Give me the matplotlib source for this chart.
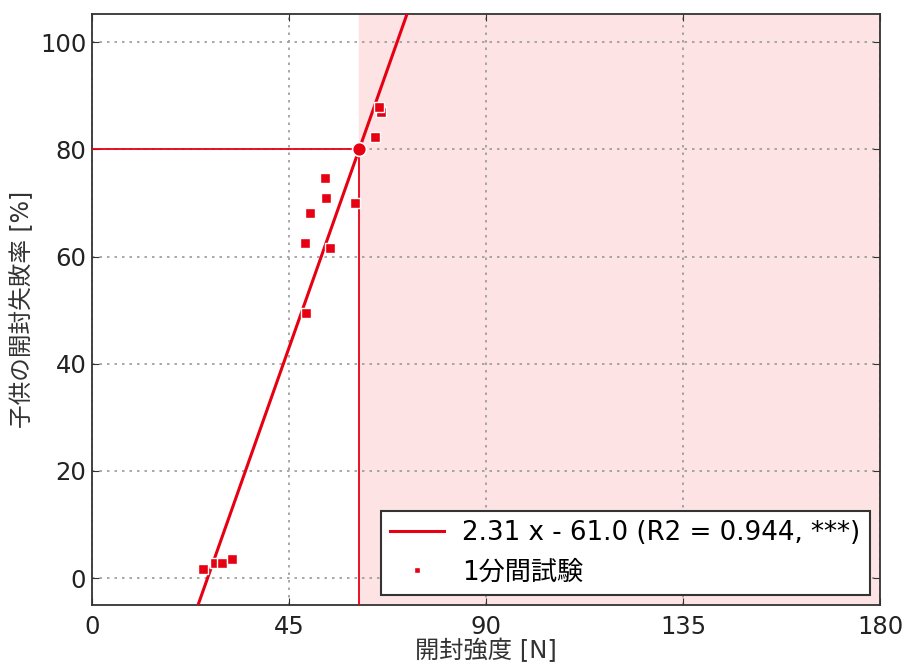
import numpy as np
import matplotlib
matplotlib.use("Agg")
import matplotlib.pyplot as plt

plt.rcParams['font.family'] = ['DejaVu Sans', 'Noto Sans CJK JP']

# Opening force [N] and children's failure rate [%] for the 1-minute test
force = [25.4, 28.2, 29.6, 31.9, 48.9, 48.7, 49.7, 53.3, 53.4, 54.4, 60.2, 64.6, 66.0, 65.5]
failure = [1.7, 2.8, 2.8, 3.5, 49.5, 62.5, 68.1, 74.7, 71.0, 61.6, 70.0, 82.3, 87.0, 87.9]

slope = 2.31
intercept = -61.0
target_rate = 80.0
fit_label = "2.31 x - 61.0 (R2 = 0.944, ***)"
series_label = "1分間試験"

xticks = [0, 45, 90, 135, 180]
yticks = [0, 20, 40, 60, 80, 100]

red = '#e60012'
threshold = (target_rate - intercept) / slope

fig = plt.figure(figsize=(9.1, 6.72), dpi=100)
ax = fig.add_axes([0.101, 0.0997, 0.866, 0.879])

xmin, xmax = 0, 180
ymin, ymax = -5, 105.2
ax.set_xlim(xmin, xmax)
ax.set_ylim(ymin, ymax)

# Region above the threshold force
ax.axvspan(threshold, xmax, color='#fde3e4', zorder=0)

ax.grid(True, color='#999999', linestyle=(0, (1.5, 3)), linewidth=1.2, zorder=1)
ax.set_axisbelow(True)

xs = np.array([xmin, xmax])
ax.plot(xs, slope * xs + intercept, color=red, linewidth=2.2, label=fit_label, zorder=3)
ax.plot([xmin, threshold], [target_rate, target_rate], color=red, linewidth=1.3, zorder=3)
ax.plot([threshold, threshold], [ymin, target_rate], color=red, linewidth=1.3, zorder=3)
ax.plot([threshold], [target_rate], 'o', color=red, markersize=10,
        markeredgecolor='white', markeredgewidth=1.2, zorder=5)
ax.plot(force, failure, 's', color=red, markersize=6.5, markeredgecolor='white',
        markeredgewidth=1.0, linestyle='none', label=series_label, zorder=4)

ax.set_xticks(xticks)
ax.set_yticks(yticks)
ax.tick_params(direction='in', top=True, right=True, labelsize=17.5, length=5,
               colors='#333333', labelcolor='#222222')
ax.tick_params(axis='y', pad=4)
ax.tick_params(axis='x', pad=7)
for s in ax.spines.values():
    s.set_color('#333333')
    s.set_linewidth(1.3)

ax.set_xlabel("開封強度 [N]", fontsize=17.5, color='#333333', labelpad=0)
ax.set_ylabel("子供の開封失敗率 [%]", fontsize=17, color='#333333', labelpad=4)

leg = ax.legend(loc='lower right', fontsize=18.8, frameon=True, fancybox=False,
                edgecolor='#333333', framealpha=1.0, markerscale=0.6,
                borderaxespad=0.4, handlelength=2.05, borderpad=0.35,
                labelspacing=0.5, handletextpad=0.7)
leg.get_frame().set_linewidth(1.5)

fig.savefig('out.png', dpi=100)
